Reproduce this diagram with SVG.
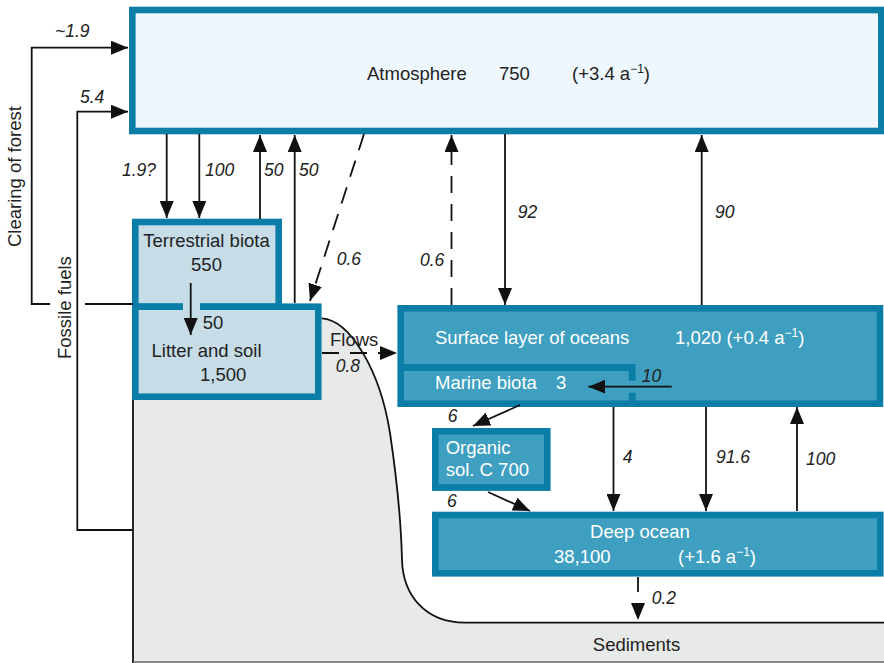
<svg xmlns="http://www.w3.org/2000/svg" width="884" height="663" viewBox="0 0 884 663">
<defs>
<style>
.box{stroke:#0a7ea6;stroke-width:6.6}
.atm{fill:#eef7fd}
.ter{fill:#c6dde8}
.oce{fill:#3f9fc0}
.t{font-family:"Liberation Sans",Arial,sans-serif;font-size:18.5px;fill:#222}
.w{fill:#fff}
.lab{font-family:"Liberation Sans",Arial,sans-serif;font-size:17.5px;font-style:italic;fill:#222}
.ln{fill:none;stroke:#111;stroke-width:1.8}
.da{stroke-dasharray:17 11}
.sup{font-size:12px}
</style>
<marker id="ah" markerUnits="userSpaceOnUse" markerWidth="17" markerHeight="14" refX="17" refY="7" orient="auto" viewBox="0 0 17 14">
<path d="M0,0 L17,7 L0,14 z" fill="#111"/>
</marker>
</defs>
<rect width="884" height="663" fill="#fff"/>

<g id="sediments">
<path d="M321.7,318.3 C350,320 380,370 390,433 C397,480 401,520 402,560 C403,595 425,622.7 465,622.7 L884,622.7 L884,663 L133,663 L133,400 L321.7,400 Z" fill="#e8eae9"/>
<path d="M321.7,318.3 C350,320 380,370 390,433 C397,480 401,520 402,560 C403,595 425,622.7 465,622.7 L884,622.7" class="ln" stroke-width="1.6"/>
<path d="M133,400 V663" class="ln" stroke-width="1.6"/>
<path d="M133,662 H884" fill="none" stroke="#666" stroke-width="1.4"/>
<text class="t" x="636.5" y="650.7" text-anchor="middle">Sediments</text>
</g>

<g id="atmosphere">
<rect class="box atm" x="132.3" y="10" width="749" height="121"/>
<text class="t" x="367" y="80">Atmosphere</text>
<text class="t" x="499" y="80">750</text>
<text class="t" x="572" y="80">(+3.4 a<tspan class="sup" dy="-7">−1</tspan><tspan dy="7">)</tspan></text>
</g>

<g id="terrestrial-biota">
<rect class="box ter" x="135.3" y="222" width="143.4" height="84.7"/>
<text class="t" x="206.5" y="247.3" text-anchor="middle">Terrestrial biota</text>
<text class="t" x="206.5" y="270.7" text-anchor="middle">550</text>
</g>

<g id="litter-soil">
<rect class="box ter" x="135.3" y="306.7" width="183" height="90"/>
<rect x="183" y="302" width="17" height="9.5" fill="#c6dde8"/>
<text class="t" x="151.5" y="356.7">Litter and soil</text>
<text class="t" x="200" y="381">1,500</text>
</g>

<g id="surface-ocean">
<rect class="box oce" x="400.7" y="308.3" width="479.3" height="95.4"/>
<text class="t w" x="435" y="344">Surface layer of oceans</text>
<text class="t w" x="675" y="344">1,020 (+0.4 a<tspan class="sup" dy="-7">−1</tspan><tspan dy="7">)</tspan></text>
</g>

<g id="marine-biota">
<path d="M404,367.5 H632.2 V380.7 M632.2,392.7 V404" fill="none" stroke="#0a7ea6" stroke-width="6.8"/>
<text class="t w" x="435" y="389.3">Marine biota</text>
<text class="t w" x="556" y="389.3">3</text>
</g>

<g id="organic-c">
<rect class="box oce" x="435.3" y="431.3" width="112" height="56.3"/>
<text class="t w" x="445.7" y="454">Organic</text>
<text class="t w" x="445.7" y="476">sol. C 700</text>
</g>

<g id="deep-ocean">
<rect class="box oce" x="435.3" y="515" width="445" height="58.3"/>
<text class="t w" x="640" y="538" text-anchor="middle">Deep ocean</text>
<text class="t w" x="554" y="563">38,100</text>
<text class="t w" x="678" y="563">(+1.6 a<tspan class="sup" dy="-7">−1</tspan><tspan dy="7">)</tspan></text>
</g>

<g id="connectors">
<path class="ln" d="M50,304 H31.7 V47.7 H128" marker-end="url(#ah)"/>
<path class="ln" d="M85,304 H133"/>
<path class="ln" d="M133,530 H77.3 V111.7 H128" marker-end="url(#ah)"/>
<path class="ln" d="M166.7,134 V218" marker-end="url(#ah)"/>
<path class="ln" d="M199.3,134 V218" marker-end="url(#ah)"/>
<path class="ln" d="M260,219 V135" marker-end="url(#ah)"/>
<path class="ln" d="M294.7,303 V135" marker-end="url(#ah)"/>
<path class="ln da" d="M364,134 L310,301" marker-end="url(#ah)"/>
<path class="ln" d="M190.7,283 V335" marker-end="url(#ah)"/>
<path class="ln da" d="M322,353 H397" marker-end="url(#ah)"/>
<path class="ln" d="M505,134 V305" marker-end="url(#ah)"/>
<path class="ln" d="M701.7,305 V135" marker-end="url(#ah)"/>
<path class="ln da" d="M451.5,305 V135" marker-end="url(#ah)"/>
<path class="ln" d="M671.7,386.7 H588.3" marker-end="url(#ah)"/>
<path class="ln" d="M520,405 L473,426" marker-end="url(#ah)"/>
<path class="ln" d="M488,492 L530,511" marker-end="url(#ah)"/>
<path class="ln" d="M613.5,407 V511" marker-end="url(#ah)"/>
<path class="ln" d="M706,407 V511" marker-end="url(#ah)"/>
<path class="ln" d="M797,511 V407" marker-end="url(#ah)"/>
<path class="ln" d="M638,577 V620" stroke-dasharray="15 11" marker-end="url(#ah)"/>
</g>

<g id="labels">
<text class="t" transform="translate(20.5,247) rotate(-90)">Clearing of forest</text>
<text class="t" transform="translate(70.5,359) rotate(-90)">Fossile fuels</text>
<text class="lab" x="55" y="36.7">~1.9</text>
<text class="lab" x="80" y="102.7">5.4</text>
<text class="lab" x="122" y="176">1.9?</text>
<text class="lab" x="205" y="176">100</text>
<text class="lab" x="264" y="176">50</text>
<text class="lab" x="299" y="176">50</text>
<text class="lab" x="336.7" y="265">0.6</text>
<text class="t" x="202.7" y="329">50</text>
<text class="t" x="330" y="345.7">Flows</text>
<text class="lab" x="335.7" y="371.7">0.8</text>
<text class="lab" x="420" y="266">0.6</text>
<text class="lab" x="517.7" y="218.3">92</text>
<text class="lab" x="715" y="218.3">90</text>
<text class="lab w" x="641.7" y="381.7">10</text>
<text class="lab" x="447.7" y="421.7">6</text>
<text class="lab" x="447" y="507">6</text>
<text class="lab" x="622.7" y="463">4</text>
<text class="lab" x="716" y="463">91.6</text>
<text class="lab" x="806" y="465">100</text>
<text class="lab" x="651.7" y="604">0.2</text>
</g>
</svg>
